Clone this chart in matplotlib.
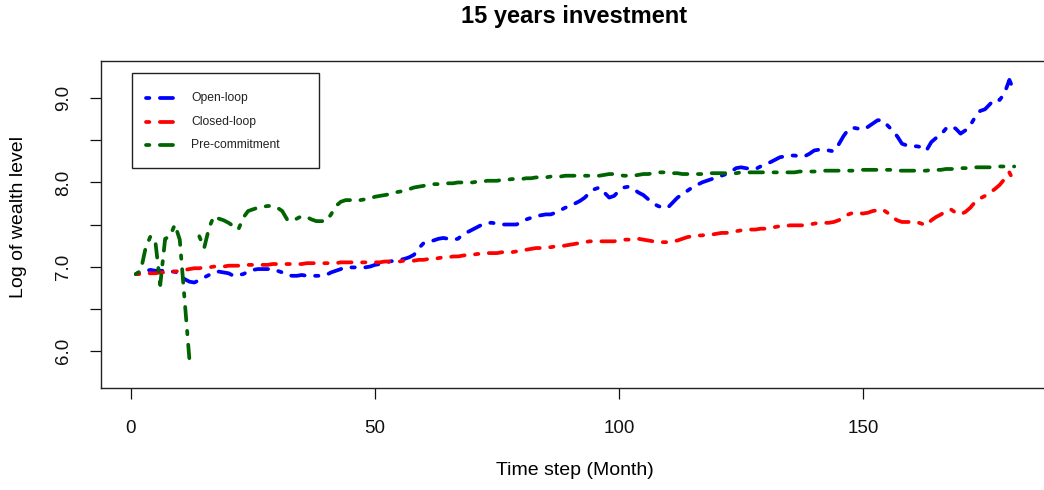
import numpy as np
import matplotlib
matplotlib.use("Agg")
import matplotlib.pyplot as plt
from matplotlib.lines import Line2D
from matplotlib.patches import Rectangle

plt.rcParams['font.family'] = ['Liberation Sans', 'DejaVu Sans']

title = "15 years investment"
xlabel = "Time step (Month)"
ylabel = "Log of wealth level"
series_names = ["Open-loop", "Closed-loop", "Pre-commitment"]
series_colors = ["#0000FF", "#FF0000", "#006400"]

months = np.arange(1, 182)

open_loop = [
    6.91, 6.94, 6.95, 6.96, 6.95, 6.95, 6.95, 6.94, 6.94, 6.91,
    6.85, 6.82, 6.81, 6.84, 6.87, 6.90, 6.93, 6.94, 6.93, 6.92,
    6.89, 6.90, 6.91, 6.94, 6.96, 6.97, 6.97, 6.97, 6.97, 6.95,
    6.93, 6.90, 6.89, 6.89, 6.90, 6.89, 6.89, 6.89, 6.89, 6.90,
    6.93, 6.95, 6.97, 6.99, 6.99, 6.99, 6.99, 6.99, 7.00, 7.02,
    7.03, 7.04, 7.06, 7.07, 7.08, 7.09, 7.11, 7.14, 7.22, 7.28,
    7.30, 7.31, 7.33, 7.34, 7.33, 7.32, 7.33, 7.38, 7.41, 7.44,
    7.47, 7.50, 7.52, 7.52, 7.51, 7.50, 7.50, 7.50, 7.50, 7.53,
    7.56, 7.58, 7.60, 7.61, 7.62, 7.62, 7.64, 7.67, 7.70, 7.72,
    7.75, 7.78, 7.82, 7.88, 7.92, 7.94, 7.88, 7.82, 7.84, 7.90,
    7.94, 7.95, 7.92, 7.88, 7.85, 7.80, 7.75, 7.72, 7.70, 7.70,
    7.76, 7.82, 7.86, 7.90, 7.94, 7.97, 8.00, 8.02, 8.04, 8.06,
    8.08, 8.10, 8.13, 8.17, 8.18, 8.17, 8.16, 8.16, 8.19, 8.22,
    8.24, 8.27, 8.30, 8.31, 8.32, 8.32, 8.31, 8.31, 8.34, 8.38,
    8.39, 8.39, 8.38, 8.37, 8.45, 8.55, 8.63, 8.65, 8.64, 8.63,
    8.66, 8.70, 8.74, 8.74, 8.68, 8.62, 8.55, 8.46, 8.44, 8.43,
    8.43, 8.42, 8.38, 8.48, 8.53, 8.57, 8.64, 8.67, 8.64, 8.58,
    8.62, 8.68, 8.78, 8.85, 8.87, 8.93, 8.99, 8.98, 9.06, 9.22,
    9.08,
]

closed_loop = [
    6.91, 6.91, 6.92, 6.92, 6.92, 6.93, 6.93, 6.94, 6.94, 6.95,
    6.96, 6.97, 6.98, 6.98, 6.99, 6.99, 7.00, 7.00, 7.00, 7.01,
    7.01, 7.01, 7.01, 7.02, 7.02, 7.02, 7.02, 7.02, 7.03, 7.03,
    7.03, 7.03, 7.03, 7.03, 7.03, 7.04, 7.04, 7.04, 7.04, 7.04,
    7.04, 7.04, 7.05, 7.05, 7.05, 7.05, 7.05, 7.05, 7.05, 7.05,
    7.05, 7.06, 7.06, 7.06, 7.06, 7.07, 7.07, 7.07, 7.08, 7.08,
    7.09, 7.09, 7.10, 7.11, 7.11, 7.12, 7.12, 7.13, 7.14, 7.14,
    7.15, 7.15, 7.16, 7.16, 7.16, 7.17, 7.17, 7.17, 7.18, 7.19,
    7.20, 7.21, 7.22, 7.22, 7.23, 7.23, 7.24, 7.24, 7.25, 7.26,
    7.27, 7.28, 7.29, 7.30, 7.30, 7.30, 7.30, 7.30, 7.30, 7.31,
    7.32, 7.32, 7.33, 7.33, 7.32, 7.31, 7.30, 7.29, 7.29, 7.29,
    7.30, 7.31, 7.33, 7.35, 7.36, 7.37, 7.37, 7.38, 7.38, 7.39,
    7.40, 7.40, 7.41, 7.42, 7.43, 7.43, 7.44, 7.44, 7.45, 7.45,
    7.46, 7.47, 7.48, 7.48, 7.49, 7.49, 7.49, 7.49, 7.50, 7.51,
    7.52, 7.52, 7.52, 7.53, 7.55, 7.58, 7.62, 7.64, 7.64, 7.63,
    7.64, 7.66, 7.67, 7.68, 7.64, 7.59, 7.55, 7.53, 7.53, 7.53,
    7.53, 7.51, 7.49, 7.55, 7.59, 7.62, 7.66, 7.68, 7.64, 7.62,
    7.65, 7.70, 7.77, 7.81, 7.84, 7.88, 7.92, 7.97, 8.04, 8.12,
    8.00,
]

pre_commitment = [
    6.91, 6.95, 7.22, 7.36, 7.30, 6.78, 7.33, 7.36, 7.50, 7.32,
    6.60, 5.88, np.nan, 7.36, 7.22, 7.46, 7.60, 7.57, 7.55, 7.52,
    7.48, 7.44, 7.58, 7.66, 7.68, 7.70, 7.71, 7.72, 7.72, 7.70,
    7.66, 7.56, 7.54, 7.57, 7.60, 7.59, 7.56, 7.54, 7.54, 7.54,
    7.62, 7.72, 7.77, 7.79, 7.79, 7.78, 7.79, 7.80, 7.81, 7.83,
    7.84, 7.85, 7.86, 7.88, 7.89, 7.90, 7.92, 7.94, 7.95, 7.96,
    7.97, 7.98, 7.98, 7.99, 7.99, 7.99, 8.00, 8.00, 8.00, 8.00,
    8.01, 8.01, 8.02, 8.02, 8.02, 8.03, 8.03, 8.04, 8.04, 8.04,
    8.05, 8.05, 8.06, 8.06, 8.06, 8.07, 8.07, 8.07, 8.08, 8.08,
    8.08, 8.08, 8.08, 8.08, 8.08, 8.08, 8.09, 8.10, 8.10, 8.09,
    8.08, 8.08, 8.08, 8.09, 8.10, 8.10, 8.11, 8.12, 8.12, 8.12,
    8.11, 8.11, 8.10, 8.10, 8.10, 8.10, 8.10, 8.10, 8.11, 8.11,
    8.11, 8.11, 8.11, 8.11, 8.12, 8.12, 8.12, 8.12, 8.12, 8.12,
    8.12, 8.12, 8.12, 8.12, 8.12, 8.12, 8.13, 8.13, 8.13, 8.13,
    8.13, 8.14, 8.14, 8.14, 8.14, 8.14, 8.14, 8.14, 8.15, 8.15,
    8.15, 8.15, 8.15, 8.15, 8.15, 8.15, 8.14, 8.14, 8.14, 8.14,
    8.14, 8.14, 8.14, 8.15, 8.15, 8.15, 8.16, 8.16, 8.16, 8.17,
    8.17, 8.17, 8.18, 8.18, 8.18, 8.18, 8.19, 8.19, 8.19, 8.19,
    8.19,
]

x_ticks = [0, 50, 100, 150]
y_ticks = [6.0, 6.5, 7.0, 7.5, 8.0, 8.5, 9.0]
y_tick_labels = ["6.0", "", "7.0", "", "8.0", "", "9.0"]

W, H = 1044, 490
fig = plt.figure(figsize=(W / 100, H / 100), dpi=100)

# axes box in pixel coordinates (R plot region, extends past right edge)
left_px, right_px, top_px, bottom_px = 100.7, 1049.4, 61.0, 388.0
ax = fig.add_axes([left_px / W, 1 - bottom_px / H,
                   (right_px - left_px) / W, (bottom_px - top_px) / H])

lw = 2.7
dash = (0, (0.9, 2.8, 3.6, 2.8))
for data, color in zip([open_loop, closed_loop, pre_commitment], series_colors):
    ax.plot(months, data, color=color, lw=lw, linestyle=dash,
            dash_capstyle='round', solid_capstyle='round')

ax.set_xlim(1 - 0.04 * 180, 181 + 0.04 * 180)
ax.set_ylim(5.7 - 0.04 * 3.6, 9.3 + 0.04 * 3.6)

for s in ax.spines.values():
    s.set_linewidth(1.0)
    s.set_color("#222222")

ax.set_xticks(x_ticks)
ax.set_xticklabels([str(v) for v in x_ticks])
ax.set_yticks(y_ticks)
ax.set_yticklabels(y_tick_labels, rotation=90, va='center')
ax.tick_params(axis='both', direction='out', length=8, width=0.9,
               labelsize=13.5, colors='#111111')
ax.tick_params(axis='x', pad=15)
ax.tick_params(axis='y', pad=12.5)

fig.text(575 / W, 1 - 470 / H, xlabel, ha='center', va='center', fontsize=14)
fig.text(19 / W, 1 - 217 / H, ylabel, ha='center', va='center',
         fontsize=14, rotation=90)
fig.text(574 / W, 1 - 16 / H, title, ha='center', va='center',
         fontsize=17, fontweight='bold')

# legend (manual, R style)
def fx(px):
    return px / W

def fy(py):
    return 1 - py / H

box = Rectangle((fx(131.7), fy(168.3)), fx(319) - fx(131.7), fy(73.3) - fy(168.3),
                transform=fig.transFigure, facecolor='white', edgecolor='#222222',
                lw=1.0, zorder=5)
fig.patches.append(box)
rows = [98.3, 122.0, 145.5]
for name, color, ry in zip(series_names, series_colors, rows):
    ln = Line2D([fx(145.5), fx(173)], [fy(ry), fy(ry)], transform=fig.transFigure,
                color=color, lw=lw, linestyle=dash, dash_capstyle='round', zorder=6)
    fig.lines.append(ln)
    fig.text(fx(191), fy(ry), name, ha='left', va='center', fontsize=8.7,
             color='#222222', zorder=7)

fig.savefig("out.png", dpi=100)
